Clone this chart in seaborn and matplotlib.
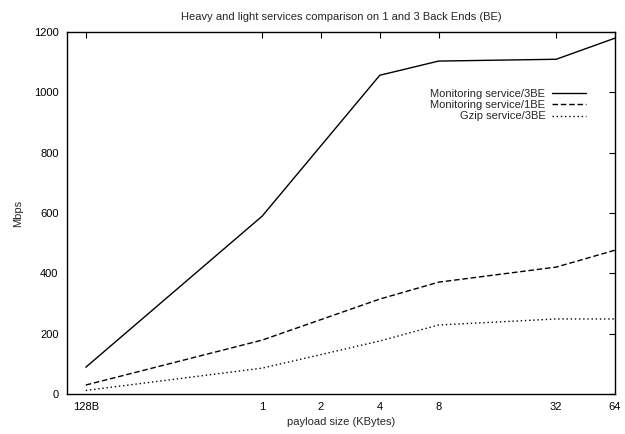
import matplotlib
matplotlib.use("Agg")
import matplotlib.pyplot as plt
import seaborn as sns
import pandas as pd
from matplotlib.ticker import FixedLocator, FixedFormatter, NullLocator

payload_kb = [0.125, 1, 4, 8, 32, 64]
monitoring_3be = [89, 590, 1057, 1104, 1110, 1180]
monitoring_1be = [30, 179, 315, 371, 421, 477]
gzip_3be = [12, 86, 176, 229, 249, 249]
series_names = ["Monitoring service/3BE", "Monitoring service/1BE", "Gzip service/3BE"]
tick_values = [0.125, 1, 2, 4, 8, 32, 64]
tick_labels = ["128B", "1", "2", "4", "8", "32", "64"]

rows = []
for name, vals in zip(series_names, [monitoring_3be, monitoring_1be, gzip_3be]):
    for x, y in zip(payload_kb, vals):
        rows.append({"payload": x, "Mbps": y, "series": name})
df = pd.DataFrame(rows)

sns.set_style("white")
plt.rcParams["font.family"] = ["Liberation Sans", "DejaVu Sans"]

fig = plt.figure(figsize=(6.25, 4.34), dpi=100)
ax = fig.add_axes([0.107, 0.092, 0.877, 0.834])

sns.lineplot(data=df, x="payload", y="Mbps", hue="series", style="series",
             hue_order=series_names, style_order=series_names,
             palette=["black"] * 3,
             dashes={series_names[0]: "", series_names[1]: (4, 2), series_names[2]: (1, 2)},
             linewidth=1.0, ax=ax, legend=True)

ax.set_xscale("log", base=2)
ax.set_xlim(0.1, 64)
ax.set_ylim(0, 1200)
ax.xaxis.set_major_locator(FixedLocator(tick_values))
ax.xaxis.set_major_formatter(FixedFormatter(tick_labels))
ax.xaxis.set_minor_locator(NullLocator())
ax.set_yticks(range(0, 1201, 200))
ax.tick_params(axis="both", which="major", direction="in", length=4, width=0.8,
               top=True, right=True, labelsize=8, colors="black", pad=6)
for s in ax.spines.values():
    s.set_color("black")
    s.set_linewidth(1.0)

ax.set_xlabel("payload size (KBytes)", fontsize=8, labelpad=3)
ax.set_ylabel("Mbps", fontsize=8, labelpad=8)
ax.set_title("Heavy and light services comparison on 1 and 3 Back Ends (BE)", fontsize=8, pad=9)

handles, labels = ax.get_legend_handles_labels()
ax.legend(handles, labels, loc="upper right", bbox_to_anchor=(0.962, 0.865),
          markerfirst=False, frameon=False, fontsize=8, handlelength=3.1,
          handletextpad=0.6, labelspacing=0.12, borderpad=0.2)

fig.savefig("out.png", dpi=100)
